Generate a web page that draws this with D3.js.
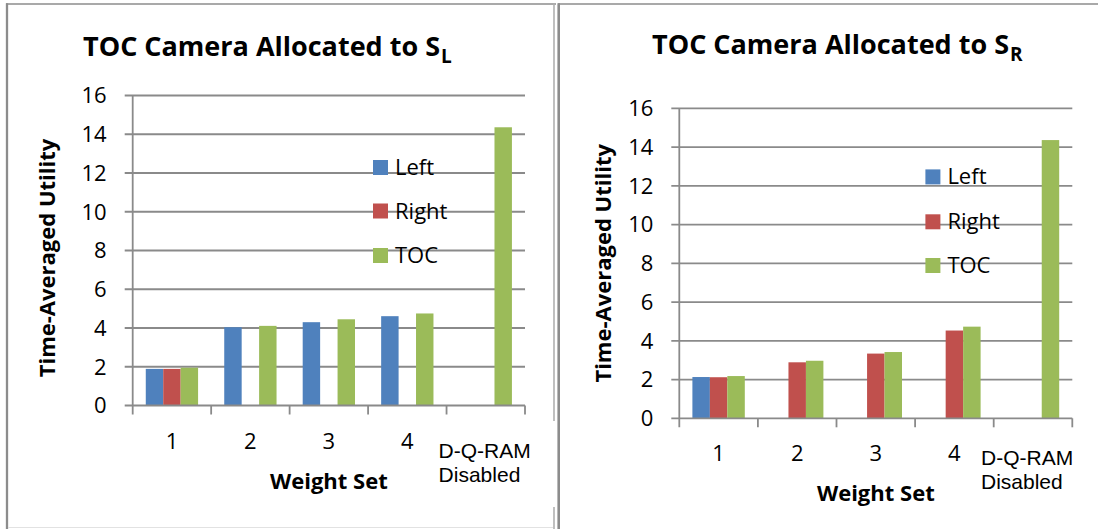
<!DOCTYPE html>
<html>
<head>
<meta charset="utf-8">
<script src="https://cdn.jsdelivr.net/npm/d3@7"></script>
<style>
  html, body { margin: 0; padding: 0; background: #fff; }
  svg { display: block; }
</style>
</head>
<body>
<svg id="chart" width="1098" height="529"></svg>
<script>
// ---------- DATA ----------
const categories = ["1", "2", "3", "4", "D-Q-RAM Disabled"];
const categoryLines = [["1"], ["2"], ["3"], ["4"], ["D-Q-RAM", "Disabled"]];
const seriesNames = ["Left", "Right", "TOC"];
const seriesColors = ["#4F81BD", "#C0504D", "#9BBB59"];
const yTicks = [0, 2, 4, 6, 8, 10, 12, 14, 16];

// Chart 1: TOC camera allocated to S_L
const slLeft  = [1.89, 4.04, 4.30, 4.61, null];
const slRight = [1.89, null, null, null, null];
const slTOC   = [1.95, 4.11, 4.45, 4.75, 14.36];

// Chart 2: TOC camera allocated to S_R
const srLeft  = [2.13, null, null, null, null];
const srRight = [2.12, 2.89, 3.34, 4.53, null];
const srTOC   = [2.18, 2.97, 3.42, 4.73, 14.36];

const titleMain = "TOC Camera Allocated to S";
const xTitle = "Weight Set";
const yTitle = "Time-Averaged Utility";

// ---------- DRAW ----------
const svg = d3.select("#chart");
const GRID = "#8a8a8a";
const SANS = "'Open Sans', sans-serif";
const ARIAL = "'Liberation Sans', Arial, sans-serif";

// panel borders
const frame = svg.append("g");
frame.append("line").attr("x1", 6).attr("x2", 556).attr("y1", 4).attr("y2", 4).attr("stroke", "#8c8c8c").attr("stroke-width", 1.5);
frame.append("line").attr("x1", 7).attr("x2", 7).attr("y1", 3.3).attr("y2", 529).attr("stroke", "#8c8c8c").attr("stroke-width", 2.3);
frame.append("line").attr("x1", 8).attr("x2", 553).attr("y1", 527.5).attr("y2", 527.5).attr("stroke", "#e2e2e2").attr("stroke-width", 1.2);
frame.append("line").attr("x1", 554).attr("x2", 554).attr("y1", 3.3).attr("y2", 421).attr("stroke", "#b0b0b0").attr("stroke-width", 1.6);
frame.append("line").attr("x1", 554).attr("x2", 554).attr("y1", 507).attr("y2", 529).attr("stroke", "#b0b0b0").attr("stroke-width", 1.6);
frame.append("line").attr("x1", 558.7).attr("x2", 558.7).attr("y1", 3.3).attr("y2", 529).attr("stroke", "#8c8c8c").attr("stroke-width", 2.6);
frame.append("line").attr("x1", 558).attr("x2", 1098).attr("y1", 4).attr("y2", 4).attr("stroke", "#8c8c8c").attr("stroke-width", 1.5);

function drawChart(cfg) {
  const g = svg.append("g");
  const values = [cfg.left, cfg.right, cfg.toc];

  const x0 = d3.scaleBand().domain(categories).range([cfg.xl, cfg.xr]).padding(0);
  const bw = x0.bandwidth();
  const x1 = d3.scaleBand().domain(seriesNames).range([bw / 6, bw * 5 / 6]).padding(0);
  const y = d3.scaleLinear().domain([0, 16]).range([cfg.y0, cfg.y16]);

  // gridlines (with outward tick stubs)
  g.append("g").selectAll("line").data(yTicks.filter(d => d > 0)).join("line")
    .attr("x1", cfg.xl - 8).attr("x2", cfg.xr)
    .attr("y1", d => y(d)).attr("y2", d => y(d))
    .attr("stroke", GRID).attr("stroke-width", 1.8);

  // bars
  const barData = [];
  categories.forEach((c, ci) => {
    seriesNames.forEach((s, si) => {
      const v = values[si][ci];
      if (v != null) barData.push({ c, s, si, v });
    });
  });
  g.append("g").selectAll("rect").data(barData).join("rect")
    .attr("x", d => x0(d.c) + x1(d.s))
    .attr("width", x1.bandwidth())
    .attr("y", d => y(d.v))
    .attr("height", d => y(0) - y(d.v))
    .attr("fill", d => seriesColors[d.si]);

  // y axis line + zero line
  g.append("line").attr("x1", cfg.xl).attr("x2", cfg.xl).attr("y1", y(16)).attr("y2", y(0) + 9)
    .attr("stroke", GRID).attr("stroke-width", 1.8);
  g.append("line").attr("x1", cfg.xl - 8).attr("x2", cfg.xr).attr("y1", y(0)).attr("y2", y(0))
    .attr("stroke", GRID).attr("stroke-width", 1.8);
  // x ticks at category boundaries
  const bounds = categories.map(c => x0(c)).concat([cfg.xr]);
  g.append("g").selectAll("line").data(bounds.slice(1)).join("line")
    .attr("x1", d => d).attr("x2", d => d).attr("y1", y(0)).attr("y2", y(0) + 9)
    .attr("stroke", GRID).attr("stroke-width", 1.8);

  // y tick labels
  g.append("g").selectAll("text").data(yTicks).join("text")
    .attr("x", cfg.xl - 26).attr("y", d => y(d)).attr("dy", "0.36em")
    .attr("text-anchor", "end").attr("font-family", SANS).attr("font-size", 22).attr("fill", "#000")
    .text(d => d);

  // category labels
  categories.forEach((c, ci) => {
    const lines = categoryLines[ci];
    const cx = x0(c) + bw / 2;
    if (lines.length === 1) {
      g.append("text").attr("x", cx).attr("y", cfg.catY)
        .attr("text-anchor", "middle").attr("font-family", SANS).attr("font-size", 22).attr("fill", "#000")
        .text(lines[0]);
    } else {
      lines.forEach((ln, li) => {
        g.append("text").attr("x", cfg.dqX).attr("y", cfg.dqY[li])
          .attr("font-family", ARIAL).attr("font-size", 21).attr("fill", "#000")
          .text(ln);
      });
    }
  });

  // axis titles
  g.append("text").attr("x", (cfg.xl + cfg.xr) / 2).attr("y", cfg.xTitleY)
    .attr("text-anchor", "middle").attr("font-family", SANS).attr("font-weight", 700)
    .attr("font-size", 22).attr("fill", "#000").text(xTitle);
  g.append("text").attr("transform", `translate(${cfg.yTitleX},${cfg.yTitleCY}) rotate(-90)`)
    .attr("text-anchor", "middle").attr("font-family", SANS).attr("font-weight", 700)
    .attr("font-size", 22).attr("fill", "#000").text(yTitle);

  // chart title with subscript
  const t = g.append("text").attr("x", cfg.titleX).attr("y", cfg.titleY)
    .attr("font-family", SANS).attr("font-weight", 700).attr("font-size", 27).attr("fill", "#000")
    .text(titleMain);
  const tw = t.node().getComputedTextLength();
  g.append("text").attr("x", cfg.titleX + tw + 1).attr("y", cfg.titleY + 7)
    .attr("font-family", SANS).attr("font-weight", 700).attr("font-size", 19).attr("fill", "#000")
    .text(cfg.sub);

  // legend
  const lg = g.append("g");
  seriesNames.forEach((s, i) => {
    lg.append("rect").attr("x", cfg.legX).attr("y", cfg.legY[i]).attr("width", 15).attr("height", 15)
      .attr("fill", seriesColors[i]);
    lg.append("text").attr("x", cfg.legX + 22).attr("y", cfg.legY[i] + 15)
      .attr("font-family", SANS).attr("font-size", 22).attr("fill", "#000").text(s);
  });
}

drawChart({
  left: slLeft, right: slRight, toc: slTOC, sub: "L",
  xl: 132.7, xr: 525, y0: 405.5, y16: 95.5,
  catY: 448.7, dqX: 438.6, dqY: [458, 482],
  xTitleY: 488.5, yTitleX: 55, yTitleCY: 258,
  titleX: 83, titleY: 55.7,
  legX: 373, legY: [160, 203.5, 248]
});

drawChart({
  left: srLeft, right: srRight, toc: srTOC, sub: "R",
  xl: 679.3, xr: 1072.3, y0: 418.3, y16: 108.3,
  catY: 460.5, dqX: 981, dqY: [465, 488.5],
  xTitleY: 500.5, yTitleX: 611, yTitleCY: 263.3,
  titleX: 652, titleY: 54,
  legX: 925.4, legY: [169.4, 214.3, 258]
});
</script>
</body>
</html>
